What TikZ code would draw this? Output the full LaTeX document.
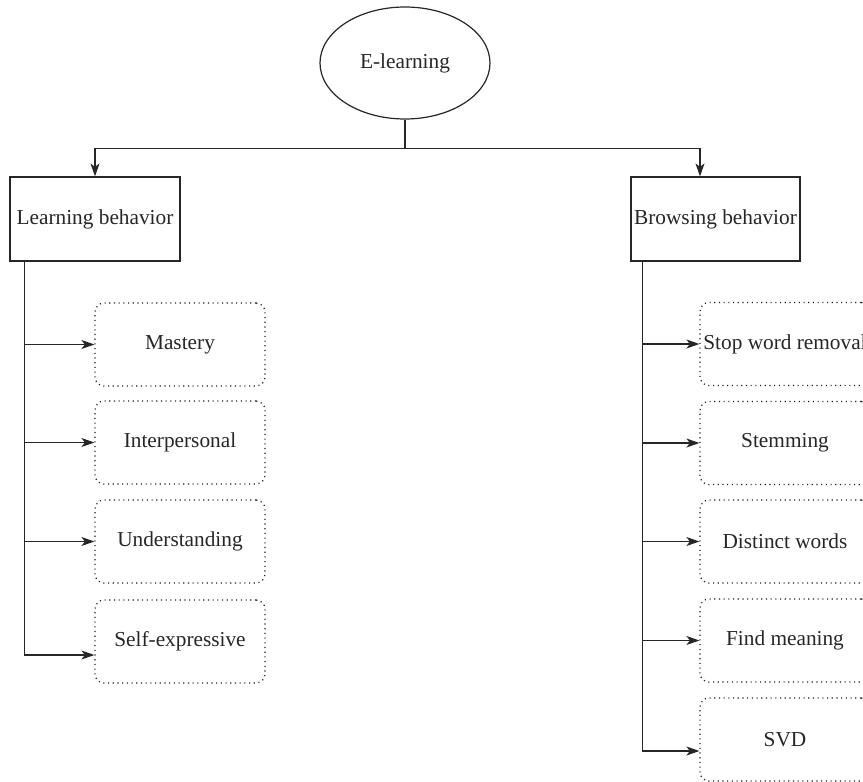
\documentclass[tikz,border=0pt]{standalone}
\usepackage{fontspec}
\setmainfont{Liberation Serif}
\usetikzlibrary{shapes.geometric,arrows.meta}
\begin{document}
\begin{tikzpicture}[x=1pt,y=-1pt,
  every node/.style={font=\fontsize{21.3}{25}\selectfont, text=black!85},
  line/.style={draw=black!85, line width=1.2pt},
  arr/.style={line, -{Stealth[length=13pt,width=9pt,inset=3.5pt]}},
  root/.style={ellipse, draw=black!85, line width=1.2pt, minimum width=170pt, minimum height=112pt, inner sep=0pt},
  catbox/.style={rectangle, draw=black!85, line width=1.2pt, minimum width=170pt, minimum height=84pt, inner sep=0pt},
  leaf/.style={rectangle, rounded corners=9pt, draw=black!90, line width=1.2pt, dash pattern=on 1.1pt off 3.6pt, minimum width=170pt, minimum height=83pt, inner sep=0pt}]
\useasboundingbox (0,0) rectangle (863,782);
\node[root] (el) at (405,63) {E-learning};
\node[catbox] (lb) at (95,219) {Learning behavior};
\node[catbox, minimum width=169pt] (bb) at (715.5,219) {Browsing behavior};
% left leaves
\node[leaf] (m1) at (180,344.5) {Mastery};
\node[leaf] (m2) at (180,442.5) {Interpersonal};
\node[leaf] (m3) at (180,541.5) {Understanding};
\node[leaf] (m4) at (180,641.5) {Self-expressive};
% right leaves
\node[leaf] (r1) at (785,344) {Stop word removal};
\node[leaf] (r2) at (785,443) {Stemming};
\node[leaf] (r3) at (785,541.5) {Distinct words};
\node[leaf] (r4) at (785,640.5) {Find meaning};
\node[leaf] (r5) at (785,739.5) {SVD};
% top connectors
\draw[arr] (el.south) -- ++(0,29) -| (lb.north);
\draw[arr] (el.south) -- ++(0,29) -| ([xshift=-15.5pt]bb.north);
% left trunk
\draw[arr] ([xshift=15pt]lb.south west) |- (m1.west);
\draw[arr] ([xshift=15pt]lb.south west) |- (m2.west);
\draw[arr] ([xshift=15pt]lb.south west) |- (m3.west);
\draw[arr] ([xshift=15pt]lb.south west) |- ([yshift=-13.5pt]m4.west);
% right trunk
\draw[arr] ([xshift=12pt]bb.south west) |- (r1.west);
\draw[arr] ([xshift=12pt]bb.south west) |- (r2.west);
\draw[arr] ([xshift=12pt]bb.south west) |- (r3.west);
\draw[arr] ([xshift=12pt]bb.south west) |- (r4.west);
\draw[arr] ([xshift=12pt]bb.south west) |- ([yshift=-11.5pt]r5.west);
\end{tikzpicture}
\end{document}
